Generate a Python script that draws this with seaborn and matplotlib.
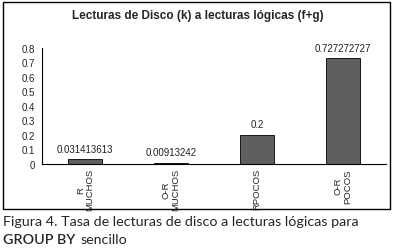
import matplotlib
matplotlib.use("Agg")
import matplotlib.pyplot as plt
import seaborn as sns
import pandas as pd
from matplotlib.patches import Rectangle

# datos
categorias = ["R\nMUCHOS", "O-R\nMUCHOS", "RPOCOS", "O-R\nPOCOS"]
valores = [0.031413613, 0.00913242, 0.2, 0.727272727]
etiquetas = ["0.031413613", "0.00913242", "0.2", "0.727272727"]
yticks = [0, 0.1, 0.2, 0.3, 0.4, 0.5, 0.6, 0.7, 0.8]

df = pd.DataFrame({"cat": categorias, "val": valores})

sns.set_style("white")
plt.rcParams['font.family'] = ['Liberation Sans', 'DejaVu Sans']

fig = plt.figure(figsize=(3.95, 2.51), dpi=100)
ax = fig.add_axes([0.106, 0.343, 0.871, 0.462])

sns.barplot(data=df, x="cat", y="val", color="#5f5f5f", width=0.4,
            edgecolor="black", linewidth=0.6, saturation=1, ax=ax)

for i, (v, t) in enumerate(zip(valores, etiquetas)):
    ax.text(i, v + 0.04, t, ha="center", va="bottom", fontsize=7, color="#222222")

ax.set_ylim(0, 0.8)
ax.set_xlim(-0.5, 3.5)
ax.set_yticks(yticks)
ax.set_yticklabels([f"{y:g}" for y in yticks], fontsize=7)
ax.set_xticks(range(len(categorias)))
ax.set_xticklabels(categorias, rotation=90, fontsize=6.8, va="top", ha="center",
                   linespacing=1.0)
ax.set_xticks([-0.5, 0.5, 1.5, 2.5, 3.5], minor=True)
ax.tick_params(axis="x", which="major", length=0, pad=3)
ax.tick_params(axis="x", which="minor", length=3, width=0.6, direction="out")
ax.tick_params(axis="y", length=3, width=0.6, direction="out", pad=2)
ax.set_xlabel("")
ax.set_ylabel("")
for s in ["top", "right"]:
    ax.spines[s].set_visible(False)
for s in ["left", "bottom"]:
    ax.spines[s].set_linewidth(0.8)
    ax.spines[s].set_color("black")

fig.text(0.5, 0.935, "Lecturas de Disco (k) a lecturas lógicas (f+g)",
         ha="center", va="center", fontsize=8.5, fontweight="bold")

# marco exterior
fig.patches.append(Rectangle((0.008, 0.163), 0.98, 0.825, transform=fig.transFigure,
                             fill=False, edgecolor="black", linewidth=1.0))

cap_font = ["Lato", "DejaVu Sans"]
fig.text(0.008, 0.115, "Figura 4. Tasa de lecturas de disco a lecturas lógicas para",
         ha="left", va="center", fontsize=10.3, family=cap_font)
fig.text(0.008, 0.045, "GROUP BY", ha="left", va="center", fontsize=10.3,
         family=cap_font, fontweight="semibold")
fig.text(0.205, 0.045, "sencillo", ha="left", va="center", fontsize=10.3,
         family=cap_font)

fig.savefig("out.png", dpi=100)
